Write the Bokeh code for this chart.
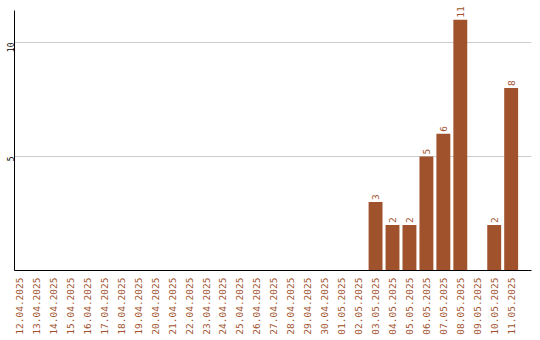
import math
from bokeh.plotting import figure
from bokeh.models import ColumnDataSource, FixedTicker, Range1d
from bokeh.core.properties import value
from bokeh.embed import file_html
from bokeh.resources import INLINE

# Daily counts, 12.04.2025 - 11.05.2025
dates = [
    "12.04.2025", "13.04.2025", "14.04.2025", "15.04.2025", "16.04.2025",
    "17.04.2025", "18.04.2025", "19.04.2025", "20.04.2025", "21.04.2025",
    "22.04.2025", "23.04.2025", "24.04.2025", "25.04.2025", "26.04.2025",
    "27.04.2025", "28.04.2025", "29.04.2025", "30.04.2025", "01.05.2025",
    "02.05.2025", "03.05.2025", "04.05.2025", "05.05.2025", "06.05.2025",
    "07.05.2025", "08.05.2025", "09.05.2025", "10.05.2025", "11.05.2025",
]
counts = [0] * 21 + [3, 2, 2, 5, 6, 11, 0, 2, 8]
y_ticks = [5, 10]

BAR = "#A0522D"
FONT = "DejaVu Sans Mono"

xs = list(range(len(dates)))
src = ColumnDataSource(dict(x=xs, top=counts))
lab = ColumnDataSource(dict(
    x=[x for x, c in zip(xs, counts) if c > 0],
    y=[c for c in counts if c > 0],
    t=[str(c) for c in counts if c > 0],
))

p = figure(
    width=540, height=340, output_backend="svg", toolbar_location=None,
    x_range=Range1d(-0.3, 30.2), y_range=Range1d(0, 11.667),
    min_border_left=11, min_border_right=9, min_border_top=4, min_border_bottom=70,
)
p.outline_line_color = None
p.background_fill_color = "white"
p.border_fill_color = "white"

p.vbar(x="x", top="top", bottom=0, width=0.82, source=src,
       fill_color=BAR, line_color=None)

p.text(x="x", y="y", text="t", source=lab, angle=math.pi / 2,
       text_align="left", text_baseline="middle", y_offset=-2,
       text_color=BAR, text_font=value(FONT), text_font_size="9.5px")

# x axis: rotated date labels
p.xaxis.ticker = FixedTicker(ticks=xs)
p.xaxis.major_label_overrides = {i: d for i, d in enumerate(dates)}
p.xaxis.major_label_orientation = math.pi / 2
p.xaxis.major_label_text_color = BAR
p.xaxis.major_label_text_font = FONT
p.xaxis.major_label_text_font_size = "9.5px"
p.xaxis.major_label_standoff = 7
p.xaxis.major_tick_out = 0
p.xaxis.major_tick_in = 0
p.xaxis.major_tick_line_color = None
p.xaxis.minor_tick_line_color = None
p.xaxis.axis_line_color = "black"
p.xgrid.grid_line_color = None

# y axis, line drawn only up to 11.4
p.yaxis.ticker = FixedTicker(ticks=y_ticks)
p.yaxis.bounds = (0, 11.4)
p.yaxis.major_label_orientation = math.pi / 2
p.yaxis.major_label_text_font = FONT
p.yaxis.major_label_text_font_size = "8px"
p.yaxis.major_label_text_color = "black"
p.yaxis.major_label_text_align = "center"
p.yaxis.major_label_text_baseline = "bottom"
p.yaxis.major_label_standoff = 4
p.yaxis.major_tick_out = 0
p.yaxis.major_tick_in = 0
p.yaxis.major_tick_line_color = None
p.yaxis.minor_tick_line_color = None
p.yaxis.axis_line_color = "black"
p.ygrid.ticker = FixedTicker(ticks=y_ticks)
p.ygrid.grid_line_color = "#cccccc"

open("out.html", "w").write(file_html(p, INLINE))
